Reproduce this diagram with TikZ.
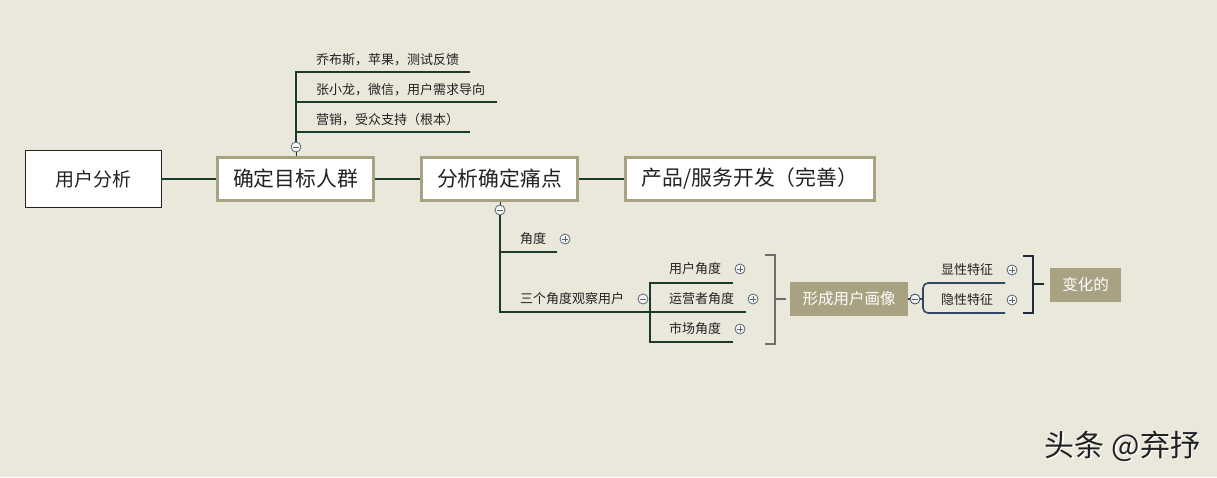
\documentclass[tikz,border=0pt]{standalone}
\usepackage{fontspec}
\setmainfont{Noto Sans CJK SC}
\definecolor{bg}{HTML}{EAE7DB}
\definecolor{olive}{HTML}{A8A282}
\definecolor{dgreen}{HTML}{1C3A2C}
\definecolor{dblue}{HTML}{2E4866}
\definecolor{brgray}{HTML}{6E6E6E}
\definecolor{brdark}{HTML}{1F2A3A}
\definecolor{cgray}{HTML}{56687A}
\definecolor{txt}{HTML}{222222}
\tikzset{
  rootbox/.style={draw=txt, line width=0.8pt, fill=white, minimum width=136pt, minimum height=57pt, inner sep=0pt, text=txt, font=\fontsize{19}{22}\selectfont},
  mainbox/.style={draw=olive, line width=3pt, fill=white, minimum height=43pt, inner sep=0pt, text=txt, font=\fontsize{20.8}{24}\selectfont},
  olivebox/.style={fill=olive, minimum height=34pt, inner sep=0pt, text=white, font=\fontsize{15.5}{18}\selectfont},
  lbl/.style={anchor=west, inner sep=0pt, text=txt, font=\fontsize{13}{15}\selectfont},
  conn/.style={dgreen, line width=2pt},
  tree/.style={dgreen, line width=2pt},
  pmc/.style={circle, draw=cgray, line width=0.8pt, fill=white!55!bg, minimum size=10pt, inner sep=0pt},
  minusc/.style={pmc, path picture={\draw[cgray, line width=0.8pt] ([xshift=-2.8pt]path picture bounding box.center) -- ([xshift=2.8pt]path picture bounding box.center);}},
  plusc/.style={pmc, path picture={\draw[cgray, line width=0.8pt] ([xshift=-2.8pt]path picture bounding box.center) -- ([xshift=2.8pt]path picture bounding box.center) ([yshift=-2.8pt]path picture bounding box.center) -- ([yshift=2.8pt]path picture bounding box.center);}}
}
\begin{document}
\begin{tikzpicture}[x=1pt,y=-1pt]
\fill[bg] (0,0) rectangle (1217,477);
\useasboundingbox (0,0) rectangle (1217,477);

% main row
\node[rootbox] (root) at (93,179) {用户分析};
\node[mainbox, minimum width=156pt] (n1) at (295.5,178.5) {确定目标人群};
\node[mainbox, minimum width=156pt] (n2) at (499.5,178.5) {分析确定痛点};
\node[mainbox, minimum width=249pt] (n3) at (750,178.5) {产品/服务开发（完善）};
\draw[conn] (root.east) -- (n1.west |- root.east);
\draw[conn] (n1.east |- root.east) -- (n2.west |- root.east);
\draw[conn] (n2.east |- root.east) -- (n3.west |- root.east);

% top branch
\node[minusc] (c1) at (296,147) {};
\draw[tree, line width=1pt] (n1.north -| c1) -- (c1.south);
\coordinate (e1) at (470,72);
\coordinate (e2) at (497,102);
\coordinate (e3) at (470,132);
\draw[tree] (c1.north) |- (e1);
\draw[tree] (c1.north) |- (e2);
\draw[tree] (c1.north) |- (e3);
\node[lbl] (l1) at (316,60) {乔布斯，苹果，测试反馈};
\node[lbl] (l2) at (316,90) {张小龙，微信，用户需求导向};
\node[lbl] (l3) at (316,120) {营销，受众支持（根本）};

% lower branch
\node[minusc] (c2) at (500,210) {};
\draw[tree, line width=1pt] (n2.south -| c2) -- (c2.north);
\coordinate (a1) at (557,252);
\coordinate (b0) at (650,312);
\draw[tree] (c2.south) |- (a1);
\draw[tree] (c2.south) |- (b0);
\node[lbl] (la) at (520,239) {角度};
\node[plusc] (p1) at (565,239) {};
\node[lbl] (lb) at (520,299) {三个角度观察用户};
\node[minusc] (c3) at (643,299) {};

\coordinate (u1) at (733,283);
\coordinate (u2) at (746,312);
\coordinate (u3) at (733,342);
\draw[tree] (b0) |- (u1);
\draw[tree] (b0) |- (u3);
\draw[tree] (b0) -- (u2);
\node[lbl] (lu1) at (669,269) {用户角度};
\node[plusc] (p2) at (740,269) {};
\node[lbl] (lu2) at (669,299) {运营者角度};
\node[plusc] (p3) at (753,299) {};
\node[lbl] (lu3) at (669,329) {市场角度};
\node[plusc] (p4) at (740,329) {};

% gray bracket
\node[olivebox, minimum width=118pt] (P) at (849,299) {形成用户画像};
\coordinate (bk1) at (775,299);
\draw[brgray, line width=1.3pt] (765,255) -- (775,255) -- (775,344) -- (765,344);
\draw[brgray, line width=1.3pt] (bk1) -- ([xshift=-4pt]P.west);

% features
\node[minusc, draw=dblue] (c4) at (915,299) {};
\draw[dblue, line width=1.3pt] (P.east) -- (c4.west);
\coordinate (f1) at (1005,283);
\coordinate (f2) at (1005,313);
\draw[dblue, line width=1.6pt, rounded corners=5pt] (f1) -- (923,283) -- (923,313) -- (f2);
\draw[dblue, line width=1.3pt] (c4.east) -- (923,299);
\node[lbl] (lf1) at (941,270) {显性特征};
\node[plusc] (p5) at (1012,270) {};
\node[lbl] (lf2) at (941,300) {隐性特征};
\node[plusc] (p6) at (1012,300) {};

% dark bracket
\node[olivebox, minimum width=71pt] (V) at (1085.5,285) {变化的};
\coordinate (bk2) at (1033,284);
\draw[brdark, line width=2.5pt] (1023,256) -- (1033,256) -- (1033,313) -- (1023,313);
\draw[brdark, line width=2.5pt] (bk2) -- ([xshift=-6pt]V.west |- bk2);

% watermark
\node[text=white, font=\fontsize{30}{34}\selectfont, inner sep=0pt] (wm0) at (1124,447.5) {头条 @弃抒};
\node[text=txt, font=\fontsize{30}{34}\selectfont, inner sep=0pt] (wm) at (1122.5,446) {头条 @弃抒};
\end{tikzpicture}
\end{document}
